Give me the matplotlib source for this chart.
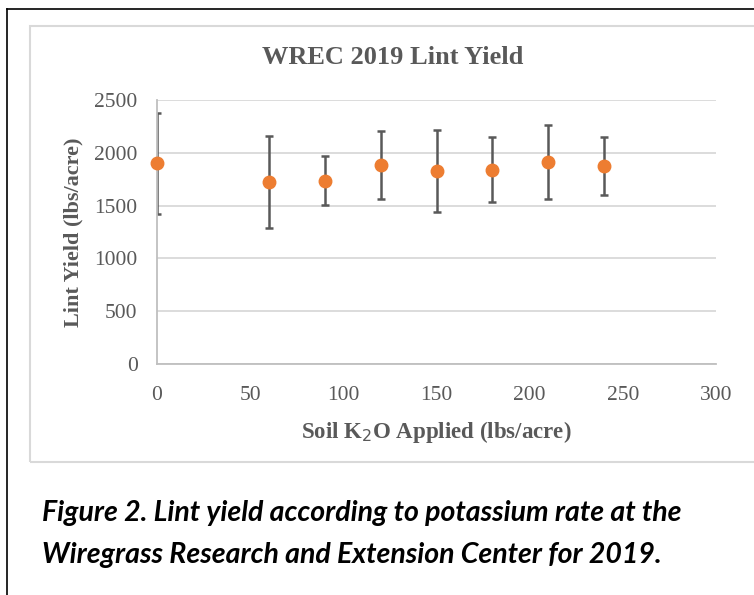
import matplotlib.pyplot as plt
from matplotlib.lines import Line2D
from matplotlib.patches import Rectangle

# potassium rate (lbs K2O/acre), mean lint yield and error bar half-width (lbs/acre)
k2o_rate = [0, 60, 90, 120, 150, 180, 210, 240]
lint_yield = [1900, 1725, 1735, 1885, 1825, 1840, 1915, 1875]
yield_err = [480, 435, 230, 320, 390, 305, 350, 270]

x_ticks = [0, 50, 100, 150, 200, 250, 300]
y_ticks = [0, 500, 1000, 1500, 2000, 2500]

serif = ["Liberation Serif", "DejaVu Serif"]
W, H = 754, 595

fig = plt.figure(figsize=(W / 100, H / 100), dpi=100)
fig.patch.set_facecolor("white")

# page border and chart frame
fig.add_artist(Line2D([7 / W, 1], [1 - 9 / H, 1 - 9 / H], color="black", lw=1.2))
fig.add_artist(Line2D([7 / W, 7 / W], [0, 1 - 9 / H], color="black", lw=1.2))
fig.add_artist(Rectangle((30 / W, 1 - 462 / H), 740 / W, 436 / H,
                         fill=False, edgecolor="#d9d9d9", lw=1.5))

ax = fig.add_axes([157 / W, 1 - 364 / H, 559 / W, 264 / H])
ax.set_xlim(0, 300)
ax.set_ylim(0, 2500)
ax.set_xticks(x_ticks)
ax.set_yticks(y_ticks)
ax.grid(axis="y", color="#d9d9d9", lw=1.3)
ax.set_axisbelow(True)
for side in ["top", "right"]:
    ax.spines[side].set_visible(False)
for side in ["left", "bottom"]:
    ax.spines[side].set_color("#bfbfbf")
    ax.spines[side].set_linewidth(1.3)
ax.tick_params(length=0, colors="#595959", labelsize=15.5)
ax.tick_params(axis="x", pad=16)
ax.tick_params(axis="y", pad=14)
for lbl in ax.get_xticklabels() + ax.get_yticklabels():
    lbl.set_family(serif)

ax.errorbar(k2o_rate, lint_yield, yerr=yield_err, fmt="none",
            ecolor="#595959", elinewidth=1.8, capsize=3, capthick=1.8)
ax.plot(k2o_rate, lint_yield, "o", color="#ed7d31", ms=9, clip_on=False, zorder=5)

# title sits centred on the chart frame rather than the plot area
fig.text(393 / W, 1 - 58 / H, "WREC 2019 Lint Yield", family=serif, fontsize=19,
         fontweight="bold", color="#595959", ha="center", va="center")
ax.set_ylabel("Lint Yield (lbs/acre)", family=serif, fontsize=16, fontweight="bold",
              color="#595959", labelpad=8)
ax.set_xlabel("Soil K$_2$O Applied (lbs/acre)", family=serif, fontsize=16.5,
              fontweight="bold", color="#595959", labelpad=10)

caption = ("Figure 2. Lint yield according to potassium rate at the\n"
           "Wiregrass Research and Extension Center for 2019.")
fig.text(42 / W, 1 - 500 / H, caption, family=["Lato", "DejaVu Sans"], fontsize=20.5,
         fontweight="bold", style="italic", va="top", ha="left", linespacing=1.75)

fig.savefig("out.png", dpi=100)
